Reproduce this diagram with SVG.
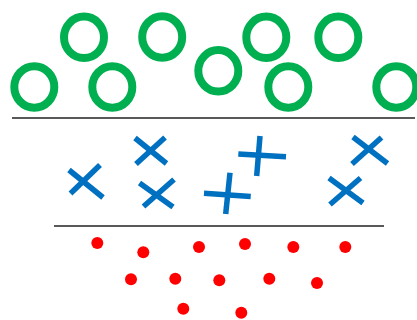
<svg xmlns="http://www.w3.org/2000/svg" width="417" height="320" viewBox="0 0 417 320">
<style>
.ring{fill:none;stroke:#00B050;stroke-width:8}
.cross line{stroke:#0070C0;stroke-width:5.5;stroke-linecap:butt}
.dot{fill:#FF0000}
.sep{stroke:#222;stroke-width:1.5}
</style>
<rect width="417" height="320" fill="#fff"/>
<g id="separators">
<line class="sep" x1="12" y1="118" x2="415" y2="118"/>
<line class="sep" x1="54" y1="226" x2="384" y2="226"/>
</g>
<g id="circles">
<ellipse id="c1" class="ring" cx="34.3" cy="87" rx="20" ry="20.7"/>
<ellipse id="c2" class="ring" cx="84" cy="37.3" rx="20" ry="20.7"/>
<ellipse id="c3" class="ring" cx="112.3" cy="87" rx="20" ry="20.7"/>
<ellipse id="c4" class="ring" cx="162.2" cy="37" rx="20" ry="20.7"/>
<ellipse id="c5" class="ring" cx="218.3" cy="70.8" rx="20" ry="20.7"/>
<ellipse id="c6" class="ring" cx="266.3" cy="37.3" rx="20" ry="20.7"/>
<ellipse id="c7" class="ring" cx="288.3" cy="87" rx="20" ry="20.7"/>
<ellipse id="c8" class="ring" cx="338.3" cy="37.3" rx="20" ry="20.7"/>
<ellipse id="c9" class="ring" cx="396.3" cy="87" rx="20" ry="20.7"/>
</g>
<g id="crosses">
<g id="x1" class="cross"><line x1="69" y1="170" x2="103" y2="197.5"/><line x1="100" y1="165" x2="70.5" y2="193.5"/></g>
<g id="x2" class="cross"><line x1="135" y1="138" x2="166.5" y2="163.5"/><line x1="165" y1="137.5" x2="136" y2="164"/></g>
<g id="x3" class="cross"><line x1="139.5" y1="183" x2="173" y2="207"/><line x1="174" y1="179.5" x2="143.5" y2="206.5"/></g>
<g id="x4" class="cross"><line x1="230" y1="172.7" x2="225.7" y2="214"/><line x1="204" y1="193.3" x2="250.7" y2="196.5"/></g>
<g id="x5" class="cross"><line x1="260" y1="136" x2="256.7" y2="176"/><line x1="238.3" y1="154" x2="286" y2="156.7"/></g>
<g id="x6" class="cross"><line x1="353" y1="137" x2="387.5" y2="163.5"/><line x1="381.5" y1="137.5" x2="352" y2="164"/></g>
<g id="x7" class="cross"><line x1="329" y1="178" x2="363" y2="203"/><line x1="360.5" y1="178" x2="330" y2="204.5"/></g>
</g>
<g id="dots">
<circle class="dot" cx="97.3" cy="243" r="6"/>
<circle class="dot" cx="143.3" cy="252.3" r="6"/>
<circle class="dot" cx="199" cy="247" r="6"/>
<circle class="dot" cx="245" cy="244" r="6"/>
<circle class="dot" cx="293.3" cy="247" r="6"/>
<circle class="dot" cx="345.3" cy="247" r="6"/>
<circle class="dot" cx="131" cy="279.3" r="6"/>
<circle class="dot" cx="175.3" cy="278.7" r="6"/>
<circle class="dot" cx="219.3" cy="280.3" r="6"/>
<circle class="dot" cx="269.3" cy="278.7" r="6"/>
<circle class="dot" cx="317" cy="283" r="6"/>
<circle class="dot" cx="183.3" cy="308.7" r="6"/>
<circle class="dot" cx="241.3" cy="312.7" r="6"/>
</g>
</svg>
